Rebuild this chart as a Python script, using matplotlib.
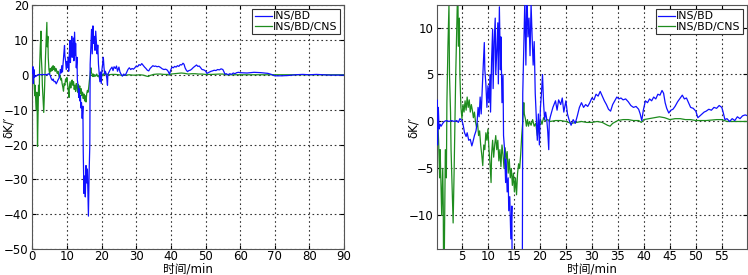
import matplotlib
matplotlib.use("Agg")
import matplotlib.pyplot as plt

plt.rcParams['font.family'] = ['DejaVu Sans', 'Noto Sans CJK SC']

# ---- data: INS/BD ----
t_bd = [0.0, 0.2, 0.3, 0.45, 0.6, 0.8, 1.0, 1.3, 1.6, 2.0, 2.5, 3.0, 3.5, 4.0, 4.3, 4.6, 5.0,
        5.2, 5.5, 5.8, 6.0, 6.3, 6.6, 6.9, 7.1, 7.4, 7.7, 7.9, 8.1, 8.3, 8.5, 8.7, 8.9, 9.1,
        9.3, 9.4, 9.6, 9.8, 10.0, 10.2, 10.4, 10.5, 10.7, 10.9, 11.0, 11.2, 11.4, 11.5, 11.7,
        11.9, 12.0, 12.2, 12.4, 12.5, 12.7, 12.9, 13.0, 13.2, 13.4, 13.5, 13.7, 13.9, 14.0,
        14.2, 14.4, 14.6, 14.7, 14.9, 15.1, 15.3, 15.5, 15.7, 15.9, 16.1, 16.2, 16.4, 16.6,
        16.7, 16.9, 17.1, 17.3, 17.5, 17.7, 17.9, 18.1, 18.3, 18.5, 18.7, 18.9, 19.1, 19.3,
        19.5, 19.7, 19.9, 20.1, 20.3, 20.5, 20.7, 20.9, 21.1, 21.3, 21.5, 21.7, 21.8, 22.0,
        22.5, 23.0, 23.3, 23.6, 24.0, 24.3, 24.6, 25.0, 25.3, 25.6, 26.0, 26.4, 26.8, 27.2,
        27.6, 28.0, 28.4, 28.8, 29.2, 29.6, 30.0, 30.4, 30.8, 31.2, 31.6, 32.0, 32.4, 32.8,
        33.2, 33.6, 34.0, 34.4, 34.8, 35.2, 35.6, 36.0, 36.5, 37.0, 37.5, 38.0, 38.5, 39.0,
        39.3, 39.6, 39.9, 40.3, 40.7, 41.1, 41.5, 41.9, 42.3, 42.7, 43.1, 43.5, 43.8, 44.1,
        44.4, 44.8, 45.2, 45.6, 46.0, 46.5, 47.0, 47.4, 47.8, 48.2, 48.6, 49.0, 49.5, 50.0,
        50.4, 50.8, 51.2, 51.6, 52.0, 52.5, 53.0, 53.5, 54.0, 54.5, 55.0, 55.3, 55.6, 56.0,
        56.5, 57.0, 57.5, 58.0, 58.5, 59.0, 59.5, 60.0, 62, 64, 66, 68, 69, 70, 72, 74, 76,
        78, 80, 82, 84, 86, 88, 90]
k_bd = [0.5, 2.3, -2.5, 1.5, -0.8, -0.3, -0.5, -0.2, 0.0, 0.1, 0.0, 0.1, 0.0, 0.1, -0.1, 0.3, 0.1,
        -0.3, -1.2, -1.6, -1.2, -2.0, -1.9, -2.6, -2.2, -1.5, -1.0, -0.2, 1.5, 0.5, 2.6, 0.8, 3.5, 6.0,
        8.4, 5.5, 4.0, 1.5, 3.8, 2.0, 5.0, 1.0, 6.5, 9.8, 3.5, 8.5, 11.0, 5.0, 7.5,
        10.5, 4.0, 12.2, 5.5, 9.0, 2.0, 5.0, -1.5, -3.0, -6.5, -4.0, -7.5, -6.0, -9.5,
        -8.0, -12.5, -9.0, -22, -34, -29, -35, -26, -31, -27, -36, -40.5, -28, -20,
        3.0, 8.0, 13, 6.0, 14, 9.0, 11, 7.0, 12.5, 9.0, 6.0, 8.5, 3.0, 0.5,
        -2.0, 0.8, -2.5, 1.5, 3.0, 5.0, 2.0, 0.2, 1.0, 0.3, -1.0, -3.0, 0.0, 0.5,
        1.5, 2.2, 1.2, 2.3, 1.8, 2.5, 1.0, 2.2, 0.8, 0.2, -0.4, 0.2, -0.2, 0.6,
        1.5, 2.0, 1.5, 1.8, 1.6, 2.0, 2.5, 2.3, 2.9, 2.7, 3.2, 2.7, 2.2, 1.8,
        1.3, 1.1, 1.8, 2.2, 2.6, 2.4, 2.5, 2.3, 2.4, 2.1, 1.7, 1.5, 1.6, 1.3,
        0.8, 0.1, 1.2, 2.2, 2.0, 2.4, 2.2, 2.6, 2.4, 2.9, 2.8, 3.3, 3.0, 2.0,
        1.4, 0.9, 1.2, 1.3, 1.6, 2.1, 2.5, 2.8, 2.4, 2.5, 2.0, 1.5, 1.4, 1.1,
        0.4, 0.6, 0.8, 1.0, 1.1, 1.3, 1.2, 1.5, 1.4, 1.7, 1.5, 0.9, 0.2, 0.3,
        0.0, 0.3, 0.1, 0.5, 0.3, 0.6, 0.7, 0.6, 0.5, 0.7, 0.6, 0.4, 0.1, -0.3, -0.3, -0.2, 0.0,
        0.1, 0.0, 0.1, 0.0, -0.1, -0.1, -0.1]

# ---- data: INS/BD/CNS ----
t_cns = [0.0, 0.2, 0.3, 0.5, 0.7, 0.8, 1.0, 1.1, 1.3, 1.4, 1.5, 1.7, 1.8, 2.0, 2.1, 2.3, 2.5,
         2.6, 2.8, 2.9, 3.1, 3.3, 3.5, 3.7, 3.8, 4.0, 4.2, 4.3, 4.5, 4.6, 4.8, 5.0, 5.2, 5.4,
         5.6, 5.8, 6.0, 6.2, 6.4, 6.6, 6.8, 7.0, 7.2, 7.4, 7.6, 7.8, 8.0, 8.2, 8.4, 8.6, 8.8,
         9.0, 9.2, 9.4, 9.6, 9.8, 10.0, 10.2, 10.4, 10.6, 10.7, 10.9, 11.1, 11.3, 11.5, 11.7,
         11.9, 12.1, 12.3, 12.5, 12.7, 12.9, 13.1, 13.3, 13.5, 13.7, 13.9, 14.1, 14.3, 14.5,
         14.7, 14.9, 15.1, 15.3, 15.5, 15.7, 15.9, 16.1, 16.3, 16.5, 16.7, 16.9, 17.0, 17.2,
         17.4, 17.6, 17.8, 18.0, 18.3, 18.6, 18.9, 19.2, 19.5, 19.8, 20.1, 20.4, 20.7, 21.0,
         21.5, 22.0, 23.0, 24.0, 25.0, 26.0, 27.0, 28.0, 29.0, 30.0, 31.0, 32.0, 33.0, 33.5,
         34.0, 35.0, 36.0, 37.0, 38.0, 39.0, 39.5, 40.0, 41.0, 42.0, 43.0, 44.0, 45.0, 46.0,
         47.0, 48.0, 49.0, 50.0, 52.0, 54.0, 55.0, 56.0, 58.0, 60.0, 70, 80, 90]
k_cns = [0.0, -1.0, 0.5, -2.0, -6.0, -3.0, -8.0, -10.0, -5.0, -9.0, -20.5, -8.0, -3.0, -6.0, 2.0, 8.0, 12.5,
         5.0, 1.0, -3.0, -7.0, -10.8, -5.0, 2.0, 5.0, 10.0, 15.0, 8.0, 11.0, 5.0, 1.5, 0.3, 1.8, 1.0,
         2.2, 1.2, 2.6, 1.5, 2.3, 1.0, 1.8, 1.2, 0.4, 1.0, 0.0, -0.6, -0.2, -1.5, -1.0, -2.5, -3.5,
         -4.7, -2.5, -3.0, -1.2, -2.0, -0.8, -3.0, -4.5, -6.5, -3.5, -2.0, -3.8, -2.5, -1.5, -3.0,
         -2.0, -4.2, -3.0, -4.8, -2.5, -3.5, -5.0, -2.8, -4.0, -3.2, -5.5, -4.0, -6.0, -5.0,
         -6.8, -5.5, -7.5, -6.0, -7.8, -5.5, -4.5, -5.0, -3.5, -1.5, 0.0, 2.0, 0.8, 0.3,
         -0.5, 0.2, -0.5, 0.0, -0.4, 0.2, -0.5, -0.2, -1.5, -0.3, 0.2, -0.3, 0.4, 0.1,
         0.2, 0.0, 0.1, 0.1, 0.0, -0.2, -0.1, 0.0, -0.1, -0.1, 0.0, -0.1, -0.4, -0.5,
         -0.2, 0.1, 0.2, 0.2, 0.1, 0.1, -0.1, 0.2, 0.3, 0.4, 0.5, 0.4, 0.2, 0.3,
         0.3, 0.2, 0.2, 0.1, 0.1, 0.2, 0.2, 0.0, 0.0, 0.0, 0.0, 0.0, 0.0]

labels = ['INS/BD', 'INS/BD/CNS']
left_xticks = list(range(0, 91, 10))
left_yticks = list(range(-50, 21, 10))
right_xticks = list(range(5, 56, 5))
right_yticks = [-10, -5, 0, 5, 10]

blue = '#1010ff'
green = '#1e8c1e'

fig = plt.figure(figsize=(7.48, 2.75), dpi=100)
ax1 = fig.add_axes([0.0432, 0.0935, 0.4168, 0.8885])
ax2 = fig.add_axes([0.5846, 0.0935, 0.4144, 0.8885])

def style(ax, xlim, ylim, xt, yt):
    l1, = ax.plot(t_bd, k_bd, color=blue, lw=0.9, zorder=3)
    l2, = ax.plot(t_cns, k_cns, color=green, lw=0.9, zorder=2)
    ax.set_xlim(*xlim)
    ax.set_ylim(*ylim)
    ax.set_xticks(xt)
    ax.set_yticks(yt)
    ax.grid(True, color='#333333', linestyle=(0, (1.5, 2.5)), linewidth=0.8)
    ax.tick_params(direction='in', labelsize=8.5, length=3, top=True, right=True)
    ax.tick_params(axis='x', pad=0.5)
    ax.tick_params(axis='y', pad=2.5)
    for s in ax.spines.values():
        s.set_color('#555555')
        s.set_linewidth(0.8)
    ax.set_xlabel('时间/min', fontsize=8.5, va='center',
                  family=['DejaVu Sans', 'Noto Sans CJK SC'])
    ax.xaxis.set_label_coords(0.5, -0.079)
    ax.set_ylabel('δK/′', fontsize=8.5, va='center')
    ax.yaxis.set_label_coords(-0.078, 0.5)
    leg = ax.legend([l1, l2], labels, loc='upper right', fontsize=7.8, handlelength=1.6,
                    handletextpad=0.1, borderpad=0.2, labelspacing=0.05, fancybox=False,
                    framealpha=1, edgecolor='#333333', borderaxespad=0.4)
    leg.get_frame().set_linewidth(0.8)

style(ax1, (0, 90), (-50, 20), left_xticks, left_yticks)
style(ax2, (0.25, 59.9), (-13.6, 12.4), right_xticks, right_yticks)

fig.savefig('out.png', dpi=100)
